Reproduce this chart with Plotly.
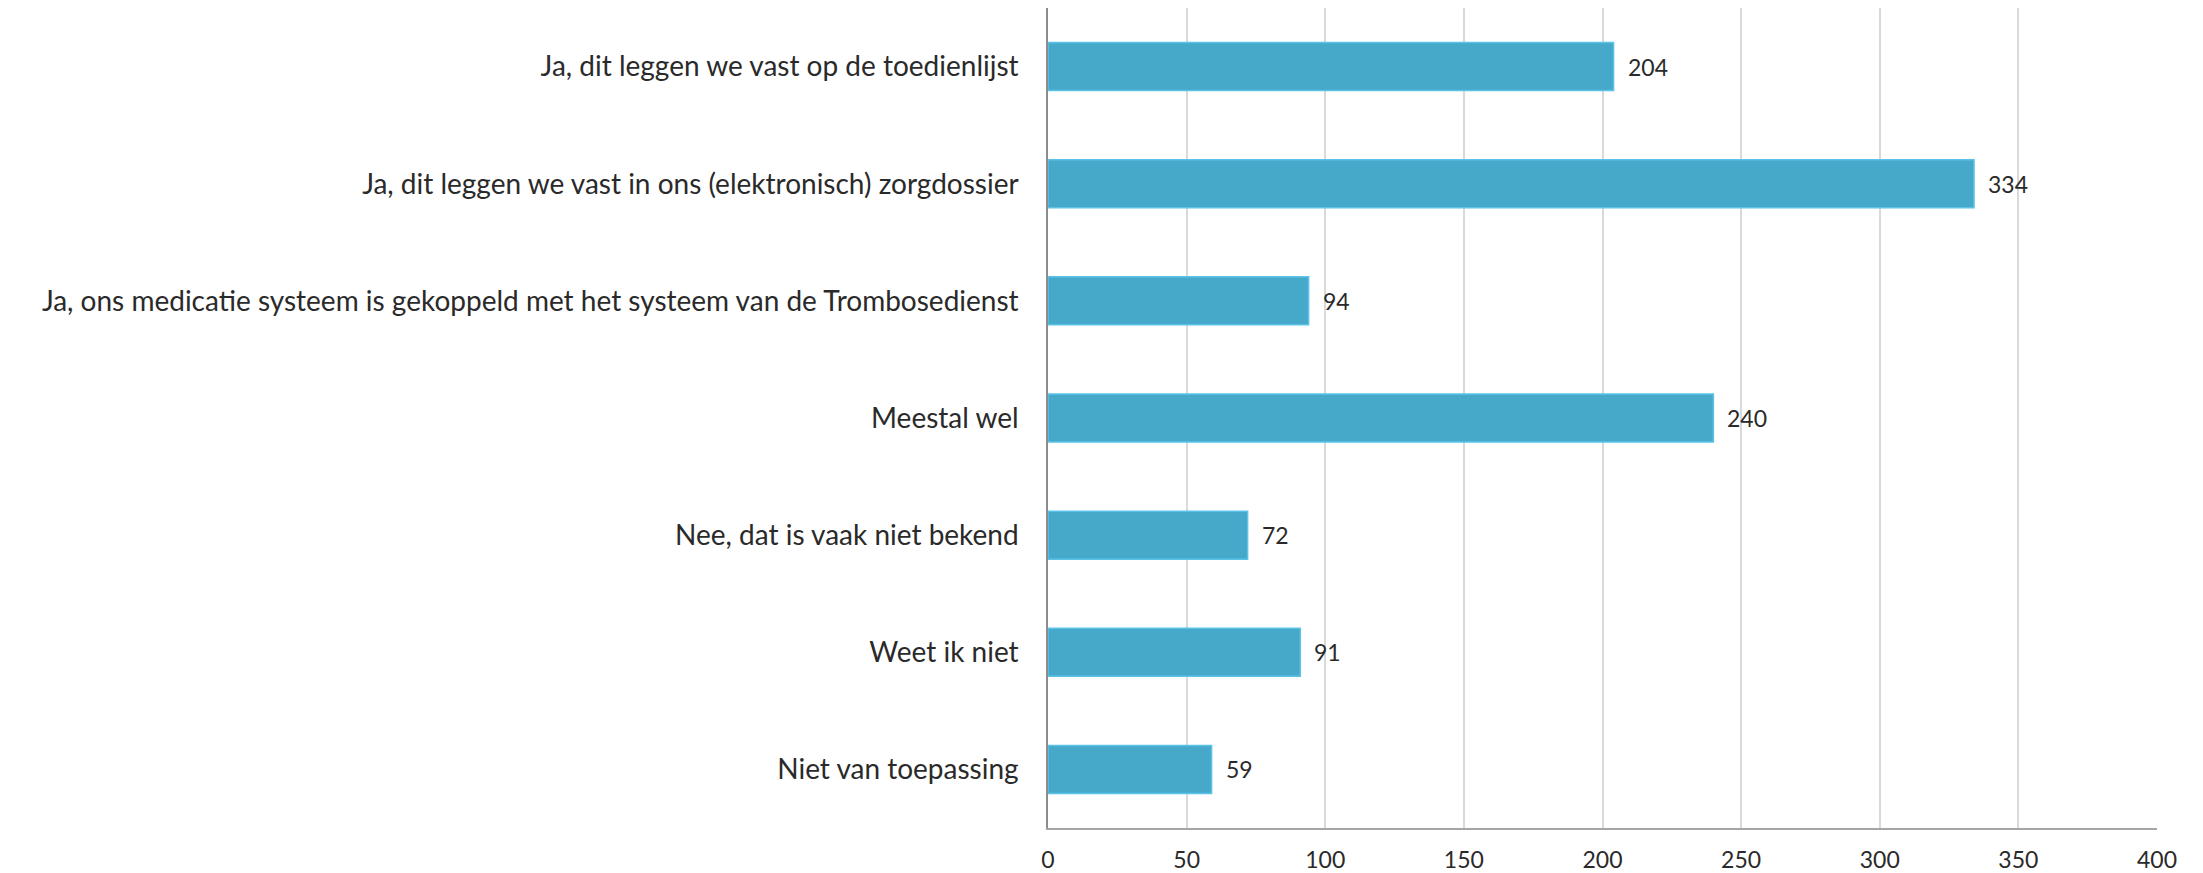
import plotly.graph_objects as go

categories = [
    "Ja, dit leggen we vast op de toedienlijst",
    "Ja, dit leggen we vast in ons (elektronisch) zorgdossier",
    "Ja, ons medicatie systeem is gekoppeld met het systeem van de Trombosedienst",
    "Meestal wel",
    "Nee, dat is vaak niet bekend",
    "Weet ik niet",
    "Niet van toepassing",
]
values = [204, 334, 94, 240, 72, 91, 59]
x_ticks = [0, 50, 100, 150, 200, 250, 300, 350, 400]

FONT = "Lato"
TXT = "#2a2a2a"

fig = go.Figure()
fig.add_trace(go.Bar(
    x=values,
    y=categories,
    orientation="h",
    marker=dict(color="#46A9CA", line=dict(color="#5BC3E8", width=1.5)),
    hoverinfo="x+y",
))

for c, v in zip(categories, values):
    fig.add_annotation(
        x=v, y=c, xref="x", yref="y", text=str(v), showarrow=False,
        xanchor="left", xshift=12, font=dict(family=FONT, size=23, color=TXT),
    )

# page body adds an 8px offset; figure size compensates
fig.update_layout(
    width=2195, height=865,
    margin=dict(l=1040, r=46, t=0, b=45, autoexpand=False),
    plot_bgcolor="white", paper_bgcolor="white",
    bargap=0.59,
    showlegend=False,
    font=dict(family=FONT, color=TXT),
)
fig.update_xaxes(
    range=[0, 400], tickvals=x_ticks, ticktext=[str(t) for t in x_ticks],
    showgrid=True, gridcolor="#D9D9D9", gridwidth=1.5,
    showline=True, linecolor="#A6A6A6", linewidth=1.5,
    zeroline=False, ticks="", ticklabelstandoff=11, automargin=False,
    tickfont=dict(family=FONT, size=23, color=TXT),
)
fig.update_yaxes(
    categoryorder="array", categoryarray=categories, autorange="reversed",
    showgrid=False, showline=True, linecolor="#8C8C8C", linewidth=1.5,
    ticks="", ticklabelstandoff=22, automargin=False,
    tickfont=dict(family=FONT, size=28, color=TXT),
)

fig.write_html("out.html")
